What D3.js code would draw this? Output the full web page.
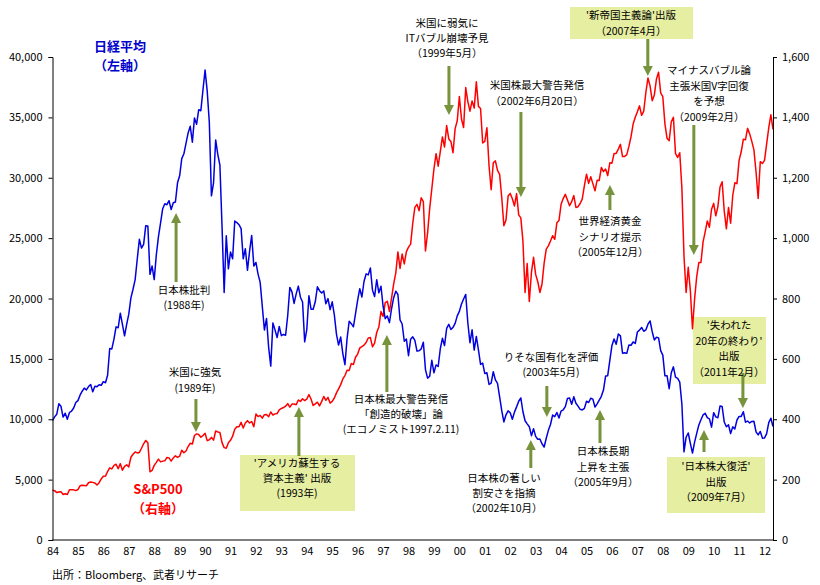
<!DOCTYPE html>
<html><head><meta charset="utf-8">
<script src="https://cdn.jsdelivr.net/npm/d3@7"></script>
<style>
body{margin:0;background:#fff;}
svg text{font-family:"Noto Sans CJK JP","Noto Sans",sans-serif;}
</style>
</head><body>
<svg id="chart" width="820" height="585"></svg>
<script>
// ---------- DATA ----------
// Month-end values, first value = Dec 1983, then Jan 1984 ... Apr 2012
const startYear = 1984;
const nikkei = [9894,
 10196,10406,11291,11074,10181,10503,10003,10559,10680,10930,11383,11542,
 11993,12321,12580,12427,12707,12882,12269,12737,12700,12863,12816,13113,
 13025,13640,15860,15826,16635,17654,17577,18787,17852,16911,17852,18701,
 20048,20766,21567,23275,24902,24176,24489,26029,26011,22000,22687,21564,
 23622,25126,26260,27434,27846,27769,28102,27366,27924,27994,29579,30159,
 31581,31985,32839,33713,34267,32949,34954,34431,35636,35549,37269,38916,
 37189,34592,28500,29585,33131,31940,31036,25978,20500,25194,22454,23849,
 23293,26409,26292,26111,25790,23291,24120,22336,23916,25222,22687,22984,
 22023,21339,19346,17391,18348,15952,14400,17979,17399,16767,17684,16925,
 17024,16953,18591,20919,20552,19590,20380,21027,20106,19704,16408,17417,
 20229,19112,19112,19725,20974,20644,20449,20629,19564,19990,19076,19723,
 18650,17053,16140,16807,15437,14517,16678,18117,17913,17655,18744,19868,
 20813,20125,21407,22041,21956,22531,20693,20167,21556,20467,21020,19361,
 18330,18557,18003,19151,20069,20605,20331,18229,17888,16459,16636,15259,
 16629,16832,16527,15641,15671,15831,16379,14108,13406,13565,14884,13842,
 14499,14368,15837,16702,16112,17530,17862,17437,17606,17943,18558,18934,
 19540,19960,20337,17974,16332,17411,15728,16861,15747,14540,14649,13786,
 13844,12884,12999,13934,13262,12969,11861,10714,9775,10367,10697,10543,
 9998,10588,11025,11493,11764,10622,9878,9620,9383,8640,9216,8579,
 8340,8363,7973,7700,8425,9083,9563,10344,10219,10560,10101,10677,
 10784,11042,11715,11762,11236,11859,11326,11082,10824,10771,10899,11489,
 11388,11740,11669,11009,11277,11584,11900,12414,13574,13607,14872,16111,
 16650,16205,17060,16906,15467,15506,15457,16141,16128,16399,16274,17226,
 17383,17604,17288,17400,17876,18138,17249,16570,16786,16738,15681,15308,
 13593,13604,12526,13850,14339,13481,13377,13073,11260,7300,8512,8860,
 7994,7200,8110,8828,9523,9958,10357,10493,10133,10035,9346,10546,
 10198,10126,11090,11057,9769,9383,9537,8824,9369,9202,9937,10229,
 10238,10624,9755,9850,9694,9816,9833,8955,8700,8988,8435,8455,
 8803,9723,10084,9400];

const sp500 = [164.9,
 163.4,157.1,159.2,160.1,150.6,153.2,150.7,166.7,166.1,166.1,163.6,167.2,
 179.6,181.2,180.7,179.8,189.6,191.9,190.9,188.6,182.1,189.8,202.2,211.3,
 211.8,226.9,238.9,235.5,247.4,250.8,236.1,252.9,231.3,244.0,249.2,242.2,
 274.1,284.2,291.7,288.4,290.1,304.0,318.7,329.8,321.8,226.0,230.3,247.1,
 257.1,267.8,258.9,261.3,262.2,273.5,272.0,261.5,271.9,279.0,273.7,277.7,
 297.5,288.9,294.9,309.6,320.5,318.0,346.1,351.5,349.2,340.4,346.0,353.4,
 329.1,331.9,339.9,330.8,361.2,358.0,356.2,322.6,306.1,304.0,322.2,330.2,
 343.9,367.1,375.2,375.3,389.8,371.2,387.8,395.4,387.9,392.5,375.2,417.1,
 408.8,412.7,403.7,415.0,415.4,408.1,424.2,414.0,417.8,418.7,431.4,435.7,
 438.8,443.4,451.7,440.2,450.2,450.5,448.1,463.6,458.9,467.8,461.8,466.5,
 481.6,467.1,445.8,450.9,456.5,444.3,458.3,475.5,462.7,472.4,453.7,459.3,
 470.4,487.4,500.7,514.7,533.4,544.8,562.1,561.9,584.4,581.5,605.4,615.9,
 636.0,640.4,645.5,654.2,669.1,670.6,640.0,652.0,687.3,705.3,757.0,740.7,
 786.2,790.8,757.1,801.3,848.3,885.1,954.3,899.5,947.3,914.6,955.4,970.4,
 980.3,1049.3,1101.8,1111.8,1090.8,1133.8,1120.7,957.3,1017.0,1098.7,1163.6,1229.2,
 1279.6,1238.3,1286.4,1335.2,1301.8,1372.7,1328.7,1320.4,1282.7,1362.9,1388.9,1469.3,
 1394.5,1366.4,1498.6,1452.4,1420.6,1454.6,1430.8,1517.7,1436.5,1429.4,1315.2,1320.3,
 1366.0,1239.9,1160.3,1249.5,1255.8,1224.4,1211.2,1133.6,1040.9,1059.8,1139.5,1148.1,
 1130.2,1106.7,1147.4,1076.9,1067.1,989.8,820.0,916.1,790.0,885.8,936.3,879.8,
 855.7,820.0,848.2,916.9,963.6,974.5,990.3,1008.0,996.0,1050.7,1058.2,1111.9,
 1131.1,1144.9,1126.2,1107.3,1120.7,1140.8,1101.7,1104.2,1114.6,1130.2,1173.8,1211.9,
 1181.3,1203.6,1180.6,1156.9,1191.5,1191.3,1234.2,1220.3,1228.8,1207.0,1249.5,1248.3,
 1280.1,1280.7,1294.8,1310.6,1270.1,1270.2,1276.7,1303.8,1335.9,1377.9,1400.6,1418.3,
 1438.2,1406.8,1420.9,1482.4,1530.6,1503.4,1455.3,1474.0,1526.8,1549.4,1481.1,1468.4,
 1378.6,1330.6,1322.7,1385.6,1400.4,1280.0,1267.4,1282.8,1166.4,940.0,820.0,903.3,
 825.9,700.0,797.9,872.8,919.1,919.3,987.5,1020.6,1057.1,1036.2,1095.6,1115.1,
 1073.9,1104.5,1169.4,1186.7,1089.4,1030.7,1101.6,1049.3,1141.2,1183.3,1180.6,1257.6,
 1286.1,1327.2,1325.8,1363.6,1345.2,1320.6,1292.3,1218.9,1131.4,1253.3,1247.0,1257.6,
 1312.4,1365.7,1408.5,1360.0];

const yearTicks = d3.range(1984, 2013);
const leftTicks = d3.range(0, 40001, 5000);
const rightTicks = d3.range(0, 1601, 200);

// annotation texts, with the year each arrow points at
const notes = [
 {lines:["日本株批判","(1988年)"], year:88.86},
 {lines:["米国に強気","(1989年)"], year:89.64},
 {lines:["'アメリカ蘇生する","資本主義' 出版","(1993年)"], year:93.69, box:true},
 {lines:["日本株最大警告発信","「創造的破壊」論","(エコノミスト1997.2.11)"], year:97.15},
 {lines:["米国に弱気に","ITバブル崩壊予見","（1999年5月）"], year:99.59},
 {lines:["米国株最大警告発信","（2002年6月20日）"], year:102.42},
 {lines:["'新帝国主義論'出版","（2007年4月）"], year:107.41, box:true},
 {lines:["マイナスバブル論","主張米国V字回復","を予想","（2009年2月）"], year:109.22},
 {lines:["世界経済黄金","シナリオ提示","（2005年12月）"], year:105.92},
 {lines:["'失われた","20年の終わり'","出版","（2011年2月）"], year:111.15, box:true},
 {lines:["りそな国有化を評価","(2003年5月)"], year:103.44},
 {lines:["日本株の著しい","割安さを指摘","（2002年10月）"], year:102.81},
 {lines:["日本株長期","上昇を主張","（2005年9月）"], year:105.53},
 {lines:["'日本株大復活'","出版","（2009年7月）"], year:109.62, box:true}
];

// ---------- LAYOUT (pixels) ----------
const L = 52.5, R = 773, T = 57, B = 540;
const FS = 10.5, GAP = 15.4;
// cy = vertical centre of the text block
const noteLayout = [
 {cx:184, cy:297.5, ay1:282, ay2:213},
 {cx:195, cy:380,   ay1:399, ay2:432},
 {cx:297, cy:478,   ay1:456, ay2:407, bx:[240,355,455,511]},
 {cx:401, cy:414,   ay1:392, ay2:335},
 {cx:447, cy:38,    ay1:66,  ay2:115},
 {cx:537, cy:93,    ay1:112, ay2:197},
 {cx:631, cy:23,    ay1:39,  ay2:76, bx:[570,693,7,39]},
 {cx:709, cy:93.5,  ay1:125, ay2:255},
 {cx:610, cy:236.5, ay1:210, ay2:185},
 {cx:729, cy:348.5, ay1:373, ay2:408, bx:[693,766,317,384]},
 {cx:551, cy:364.5, ay1:386, ay2:417},
 {cx:504, cy:493,   ay1:468, ay2:440},
 {cx:603, cy:466.5, ay1:443, ay2:410},
 {cx:716, cy:481.5, ay1:452, ay2:430, bx:[667,765,457,513]}
];

const svg = d3.select("#chart");
const x = d3.scaleLinear().domain([startYear, 2012 + 4/12]).range([L, R]);
const yL = d3.scaleLinear().domain([0, 40000]).range([B, T]);
const yR = d3.scaleLinear().domain([0, 1600]).range([B, T]);

const dateOf = i => startYear + i / 12;

// boxes first (behind lines)
notes.forEach((n, k) => {
  const lay = noteLayout[k];
  if (n.box) {
    const [x1, x2, y1, y2] = lay.bx;
    svg.append("rect").attr("x", x1).attr("y", y1).attr("width", x2 - x1).attr("height", y2 - y1)
      .attr("fill", "#e6eea2");
  }
});

// lines
svg.append("path").datum(sp500)
  .attr("d", d3.line().x((d, i) => x(dateOf(i))).y(d => yR(d)))
  .attr("fill", "none").attr("stroke", "#ff0000").attr("stroke-width", 1.5).attr("stroke-linejoin", "round");
svg.append("path").datum(nikkei)
  .attr("d", d3.line().x((d, i) => x(dateOf(i))).y(d => yL(d)))
  .attr("fill", "none").attr("stroke", "#0000e0").attr("stroke-width", 1.5).attr("stroke-linejoin", "round");

// axes
const fmt = d3.format(",");
const gL = svg.append("g").attr("transform", `translate(${L},0)`)
  .call(d3.axisLeft(yL).tickValues(leftTicks).tickFormat(fmt).tickSize(4).tickPadding(6));
const gR = svg.append("g").attr("transform", `translate(${R},0)`)
  .call(d3.axisRight(yR).tickValues(rightTicks).tickFormat(fmt).tickSize(4).tickPadding(5));
const gX = svg.append("g").attr("transform", `translate(0,${B})`)
  .call(d3.axisBottom(x).tickValues(yearTicks).tickFormat(d => String(d % 100).padStart(2, "0")).tickSize(0).tickPadding(7));
[gL, gR, gX].forEach(g => {
  g.selectAll("path").attr("stroke", "#000").attr("stroke-width", 1);
  g.selectAll("line").attr("stroke", "#000");
  g.selectAll("text").attr("font-family", "'Liberation Sans', Arial, sans-serif").attr("font-size", 11).attr("fill", "#000");
});
gX.select("path").attr("d", `M${L},0H${R}`);

// annotations: arrows + text
const arrowColor = "#77933c";
notes.forEach((n, k) => {
  const lay = noteLayout[k];
  const ax = x(1900 + n.year);
  const dir = lay.ay2 < lay.ay1 ? -1 : 1;
  svg.append("line").attr("x1", ax).attr("x2", ax).attr("y1", lay.ay1).attr("y2", lay.ay2 - dir * 9)
    .attr("stroke", arrowColor).attr("stroke-width", 3);
  svg.append("path")
    .attr("d", `M${ax - 5},${lay.ay2 - dir * 10}L${ax + 5},${lay.ay2 - dir * 10}L${ax},${lay.ay2}Z`)
    .attr("fill", arrowColor);
  const t = svg.append("text").attr("text-anchor", "middle").attr("font-size", FS).attr("fill", "#000");
  const y0 = lay.cy - (n.lines.length - 1) * GAP / 2;
  n.lines.forEach((s, j) => {
    t.append("tspan").attr("x", lay.cx).attr("y", y0 + j * GAP + 4).text(s);
  });
});

// series labels
function label(cx, ys, lines, color) {
  const t = svg.append("text").attr("text-anchor", "middle").attr("font-size", 13)
    .attr("font-weight", "bold").attr("fill", color);
  lines.forEach((s, j) => t.append("tspan").attr("x", cx).attr("y", ys[j]).text(s));
}
label(120, [51, 70], ["日経平均", "（左軸）"], "#0000cc");
label(158, [494, 513], ["S&P500", "（右軸）"], "#ff0000");

// source
svg.append("text").attr("x", 52).attr("y", 579).attr("font-size", 11).attr("fill", "#000")
  .text("出所：Bloomberg、武者リサーチ");
</script>
</body></html>
